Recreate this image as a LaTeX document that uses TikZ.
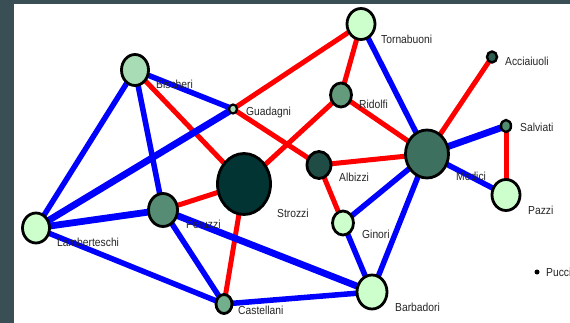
\documentclass[tikz,border=0pt]{standalone}
\usepackage{fontspec}
\setmainfont{Liberation Sans}
\usetikzlibrary{shapes.geometric}
\pgfdeclarelayer{bg}
\pgfdeclarelayer{edges}
\pgfsetlayers{bg,edges,main}
\definecolor{slate}{HTML}{3A4F55}
\definecolor{paleg}{HTML}{CCFFCC}
\definecolor{lightg}{HTML}{A8DCB4}
\definecolor{midg}{HTML}{649B7D}
\definecolor{perg}{HTML}{558C73}
\definecolor{castg}{HTML}{73AF8C}
\definecolor{medg}{HTML}{3E7060}
\definecolor{albg}{HTML}{1F4D45}
\definecolor{strg}{HTML}{023433}
\definecolor{accg}{HTML}{2E5E50}
\definecolor{salg}{HTML}{508C6E}
\definecolor{tieblue}{HTML}{0000FF}
\definecolor{tiered}{HTML}{FF0000}
\newcommand{\famname}[1]{\scalebox{1}[1.13]{#1}}
\tikzset{
  family/.style={ellipse, draw=black, line width=2.8pt, inner sep=0pt, outer sep=0pt},
  famlabel/.style={anchor=west, inner sep=0pt, text=black!85,
    font=\fontsize{10.3}{12}\selectfont},
  marriage/.style={draw=tiered, line width=5pt},
  business/.style={draw=tieblue, line width=5.5pt},
  heavy/.style={line width=6.8pt}
}
\begin{document}
\begin{tikzpicture}[x=1pt,y=-1pt]
\useasboundingbox (0,0) rectangle (570,323);
\begin{pgfonlayer}{bg}
  \fill[slate] (0,0) rectangle (570,323);
  \fill[white] (14,4) rectangle (570,323);
\end{pgfonlayer}

% families
\node[family, fill=paleg, minimum width=28pt, minimum height=31pt] (torn) at (361,24) {};
\node[family, fill=accg, line width=2.4pt, minimum width=10pt, minimum height=11pt] (acci) at (492,57) {};
\node[family, fill=lightg, minimum width=27pt, minimum height=31pt] (bisc) at (135,70) {};
\node[family, fill=lightg, line width=2.2pt, minimum width=8pt, minimum height=9pt] (guad) at (233,109) {};
\node[family, fill=midg, minimum width=21pt, minimum height=24pt] (ridi) at (341,95) {};
\node[family, fill=albg, minimum width=24pt, minimum height=27pt] (albi) at (319,165) {};
\node[family, fill=strg, minimum width=53pt, minimum height=61pt] (stro) at (244,184) {};
\node[family, fill=paleg, minimum width=21pt, minimum height=24pt] (gino) at (343,223) {};
\node[family, fill=medg, minimum width=43pt, minimum height=48pt] (medi) at (427,154) {};
\node[family, fill=salg, line width=2.4pt, minimum width=10pt, minimum height=12pt] (salv) at (506,126) {};
\node[family, fill=paleg, minimum width=28pt, minimum height=31pt] (pazz) at (506,195) {};
\node[family, fill=perg, minimum width=29pt, minimum height=33pt] (peru) at (163,210) {};
\node[family, fill=paleg, minimum width=27pt, minimum height=30pt] (lamb) at (36,228) {};
\node[family, fill=castg, minimum width=16pt, minimum height=19pt] (cast) at (224,304) {};
\node[family, fill=paleg, minimum width=30pt, minimum height=34pt] (barb) at (372,292) {};
\node[circle, fill=black, inner sep=0pt, minimum size=5pt] (pucc) at (537,272) {};

% ties between families
\begin{pgfonlayer}{edges}
  \draw[marriage] (torn.center) -- (guad.center);
  \draw[marriage] (torn.center) -- (ridi.center);
  \draw[marriage] (bisc.center) -- (stro.center);
  \draw[marriage] (guad.center) -- (albi.center);
  \draw[marriage] (ridi.center) -- (stro.center);
  \draw[marriage] (ridi.center) -- (medi.center);
  \draw[marriage] (albi.center) -- (medi.center);
  \draw[marriage] (albi.center) -- (gino.center);
  \draw[marriage] (acci.center) -- (medi.center);
  \draw[marriage] (salv.center) -- (pazz.center);
  \draw[marriage] (peru.center) -- (stro.center);
  \draw[marriage] (stro.center) -- (cast.center);

  \draw[business] (torn.center) -- (medi.center);
  \draw[business] (bisc.center) -- (guad.center);
  \draw[business] (bisc.center) -- (lamb.center);
  \draw[business] (bisc.center) -- (peru.center);
  \draw[business, heavy] (guad.center) -- (lamb.center);
  \draw[business, heavy] (lamb.center) -- (peru.center);
  \draw[business] (lamb.center) -- (cast.center);
  \draw[business] (peru.center) -- (cast.center);
  \draw[business, heavy] (peru.center) -- (barb.center);
  \draw[business] (cast.center) -- (barb.center);
  \draw[business] (gino.center) -- (medi.center);
  \draw[business] (gino.center) -- (barb.center);
  \draw[business] (medi.center) -- (barb.center);
  \draw[business, heavy] (medi.center) -- (salv.center);
  \draw[business] (medi.center) -- (pazz.center);
\end{pgfonlayer}

% family names
\node[famlabel] (ltorn) at (381,39) {\famname{Tornabuoni}};
\node[famlabel] (lacci) at (505,61) {\famname{Acciaiuoli}};
\node[famlabel] (lbisc) at (156,84) {\famname{Bischeri}};
\node[famlabel] (lguad) at (246,112) {\famname{Guadagni}};
\node[famlabel] (lridi) at (359,104) {\famname{Ridolfi}};
\node[famlabel] (lalbi) at (339,177) {\famname{Albizzi}};
\node[famlabel] (lstro) at (277,213) {\famname{Strozzi}};
\node[famlabel] (lgino) at (362,234) {\famname{Ginori}};
\node[famlabel] (lmedi) at (456,176) {\famname{Medici}};
\node[famlabel] (lsalv) at (520,127) {\famname{Salviati}};
\node[famlabel] (lpazz) at (528,210) {\famname{Pazzi}};
\node[famlabel] (lperu) at (186,224) {\famname{Peruzzi}};
\node[famlabel] (llamb) at (57,242) {\famname{Lamberteschi}};
\node[famlabel] (lcast) at (238,310) {\famname{Castellani}};
\node[famlabel] (lbarb) at (395,307) {\famname{Barbadori}};
\node[famlabel] (lpucc) at (546,272) {\famname{Pucci}};
\end{tikzpicture}
\end{document}
